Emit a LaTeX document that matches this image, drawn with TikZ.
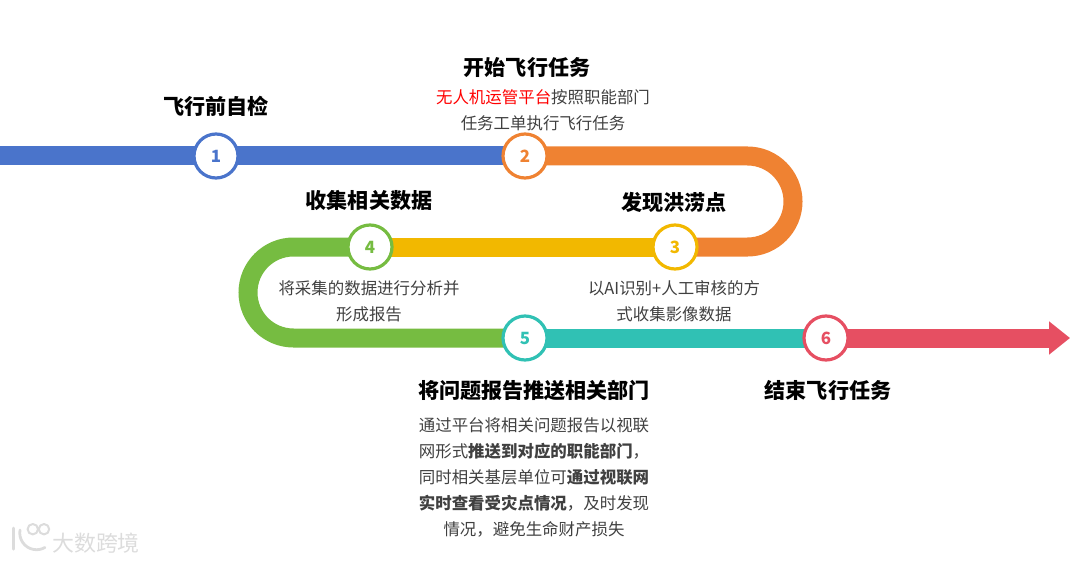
\documentclass[tikz,border=0pt]{standalone}
\usepackage{fontspec}
\setmainfont{Noto Sans CJK SC}
\usetikzlibrary{arrows.meta,backgrounds}
\definecolor{FlyBlue}{HTML}{4A74CB}
\definecolor{FlyOrange}{HTML}{EF8232}
\definecolor{FlyYellow}{HTML}{F2B800}
\definecolor{FlyGreen}{HTML}{76BC41}
\definecolor{FlyTeal}{HTML}{30C1B4}
\definecolor{FlyRed}{HTML}{E64F62}
\definecolor{FlyText}{HTML}{404040}
\definecolor{FlyMark}{HTML}{DCDCDC}
\tikzset{
  stepnode/.style={circle,draw=#1,fill=white,text=#1,line width=0.08cm,minimum size=1.1cm,inner sep=0pt,font=\fontsize{12}{12}\selectfont\bfseries},
  trackline/.style={line width=0.475cm,draw=#1},
  headtext/.style={font=\fontsize{15}{15}\selectfont\bfseries,text=black,inner sep=0pt},
  bodytext/.style={font=\fontsize{11.7}{18.5}\selectfont,text=FlyText,align=center,inner sep=0pt}
}
\begin{document}
\begin{tikzpicture}[line join=round]
  \useasboundingbox (0,0) rectangle (27,14.05);
  \node[stepnode=FlyBlue] (n1) at (5.4,10.15) {1};
  \node[stepnode=FlyOrange] (n2) at (13.125,10.15) {2};
  \node[stepnode=FlyYellow] (n3) at (16.875,7.875) {3};
  \node[stepnode=FlyGreen] (n4) at (9.25,7.875) {4};
  \node[stepnode=FlyTeal] (n5) at (13.125,5.6) {5};
  \node[stepnode=FlyRed] (n6) at (20.65,5.6) {6};
  \coordinate (start) at (0,10.15);
  \coordinate (bendA) at (19.825,10.15);
  \coordinate (bendB) at (19.825,7.875);
  \coordinate (bendC) at (6.2,7.875);
  \coordinate (bendD) at (6.2,5.6);
  \coordinate (finish) at (26.75,5.6);
  \begin{scope}[on background layer]
    \draw[trackline=FlyBlue] (start) -- (n2.center);
    \draw[trackline=FlyOrange,rounded corners=1.1375cm] (n2.center) -- (bendA) -- (bendB) -- (n3.center);
    \draw[trackline=FlyYellow] (n3.center) -- (n4.center);
    \draw[trackline=FlyGreen,rounded corners=1.1375cm] (n4.center) -- (bendC) -- (bendD) -- (n5.center);
    \draw[trackline=FlyTeal] (n5.center) -- (n6.center);
    \draw[trackline=FlyRed,-{Triangle[length=0.525cm,width=0.8cm]}] (n6.center) -- (finish);
  \end{scope}
  \node[headtext] (t1) at (5.4,11.4) {飞行前自检};
  \node[headtext] (t2) at (13.175,12.35) {开始飞行任务};
  \node[headtext] (t3) at (16.85,9) {发现洪涝点};
  \node[headtext] (t4) at (9.225,9.05) {收集相关数据};
  \node[headtext] (t5) at (13.35,4.3) {将问题报告推送相关部门};
  \node[headtext] (t6) at (20.7,4.3) {结束飞行任务};
  \node[bodytext] (d2) at (13.575,11.29) {\textcolor{red}{无人机运管平台}按照职能部门\\任务工单执行飞行任务};
  \node[bodytext] (d3) at (16.85,6.525) {以AI识别+人工审核的方\\式收集影像数据};
  \node[bodytext] (d4) at (9.225,6.525) {将采集的数据进行分析并\\形成报告};
  \node[bodytext] (d5) at (13.35,2.125) {通过平台将相关问题报告以视联\\网形式\textbf{推送到对应的职能部门}，\\同时相关基层单位可\textbf{通过视联网}\\\textbf{实时查看受灾点情况}，及时发现\\情况，避免生命财产损失};
  % watermark
  \node[font=\fontsize{15.6}{16}\selectfont,text=FlyMark,inner sep=0pt] (mark) at (2.4,0.48) {大数跨境};
  \draw[FlyMark,line width=0.07cm,line cap=round] (0.33,0.32) -- (0.33,0.85);
  \draw[FlyMark,line width=0.07cm,line cap=round] (0.5,0.8) arc (170:300:0.42);
  \draw[FlyMark,line width=0.05cm] (0.82,0.82) circle (0.13) (1.1,0.82) circle (0.13);
\end{tikzpicture}
\end{document}
